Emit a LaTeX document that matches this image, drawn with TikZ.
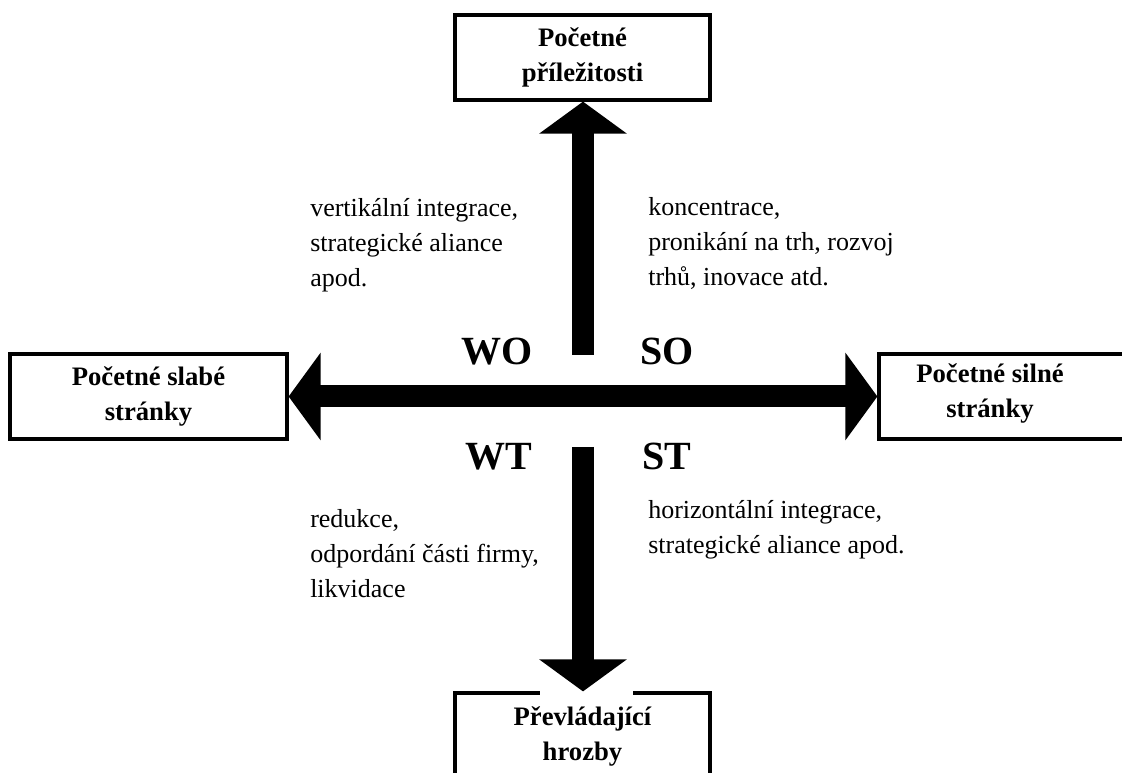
\documentclass[tikz,border=0pt]{standalone}
\usepackage{fontspec}
\setmainfont{Liberation Serif}
\usetikzlibrary{arrows.meta}

% first-line and last-line struts so multi-line labels have a fixed height
\newcommand{\topstrut}{\rule{0pt}{0.8em}}
\newcommand{\botstrut}{\rule[-0.3em]{0pt}{0.3em}}

\tikzset{
  boxed/.style={draw, line width=2.4pt, inner sep=0pt, align=center,
    font=\fontsize{20pt}{26.25pt}\selectfont\bfseries},
  boxlabel/.style={inner sep=0pt, align=center,
    font=\fontsize{20pt}{26.25pt}\selectfont\bfseries},
  note/.style={inner sep=0pt, align=left, anchor=north west,
    font=\fontsize{19.5pt}{26.25pt}\selectfont},
  quad/.style={inner sep=0pt, anchor=base west,
    font=\fontsize{30pt}{36pt}\selectfont\bfseries},
  bigarrow/.style={line width=16.5pt, -{Triangle[length=24pt,width=64.5pt]}},
  bothways/.style={line width=16.5pt,
    {Triangle[length=24pt,width=64.5pt]}-{Triangle[length=24pt,width=64.5pt]}}
}

\begin{document}
\begin{tikzpicture}[x=0.75pt,y=-0.75pt]
\useasboundingbox (0,0) rectangle (1122,773);

% the four outer boxes
\node[boxed, minimum width=191.25pt, minimum height=63.75pt] (opp) at (582.5,57.5)
  {\topstrut Početné\\ příležitosti\botstrut};
\node[boxed, minimum width=207.75pt, minimum height=63.75pt] (weak) at (148.5,396.5)
  {\topstrut Početné slabé\\ stránky\botstrut};
\node[boxed, minimum width=188.25pt, minimum height=63.75pt] (str) at (1004.5,396.5) {};
\node[boxlabel] (strtext) at (990,393.8) {\topstrut Početné silné\\ stránky\botstrut};
\node[boxed, minimum width=191.25pt, minimum height=79.5pt] (thr) at (582.5,746) {};
\node[boxlabel, anchor=north] (thrtext) at (582.5,703.7) {\topstrut Převládající\\ hrozby};

% arrows from the centre
\coordinate (ctop) at (583,355);
\coordinate (cbot) at (583,447);
\draw[bigarrow] (ctop) -- (ctop |- opp.south);
\draw[bothways] (weak.east) -- (str.west);
\fill[white] (540,687) rectangle (633,699);
\draw[bigarrow] (cbot) -- (cbot |- thr.north);

% quadrant names
\node[quad] (wo) at (461,365) {WO};
\node[quad] (so) at (640,365) {SO};
\node[quad] (wt) at (465,470) {WT};
\node[quad] (st) at (642,470) {ST};

% strategies in each quadrant
\node[note] (wonote) at (310,195.9) {\topstrut vertikální integrace,\\ strategické aliance\\ apod.};
\node[note] (sonote) at (648,194.2) {\topstrut koncentrace,\\ pronikání na trh, rozvoj\\ trhů, inovace atd.};
\node[note] (wtnote) at (310,506) {\topstrut redukce,\\ odpordání části firmy,\\ likvidace};
\node[note] (stnote) at (648,497) {\topstrut horizontální integrace,\\ strategické aliance apod.};
\end{tikzpicture}
\end{document}
